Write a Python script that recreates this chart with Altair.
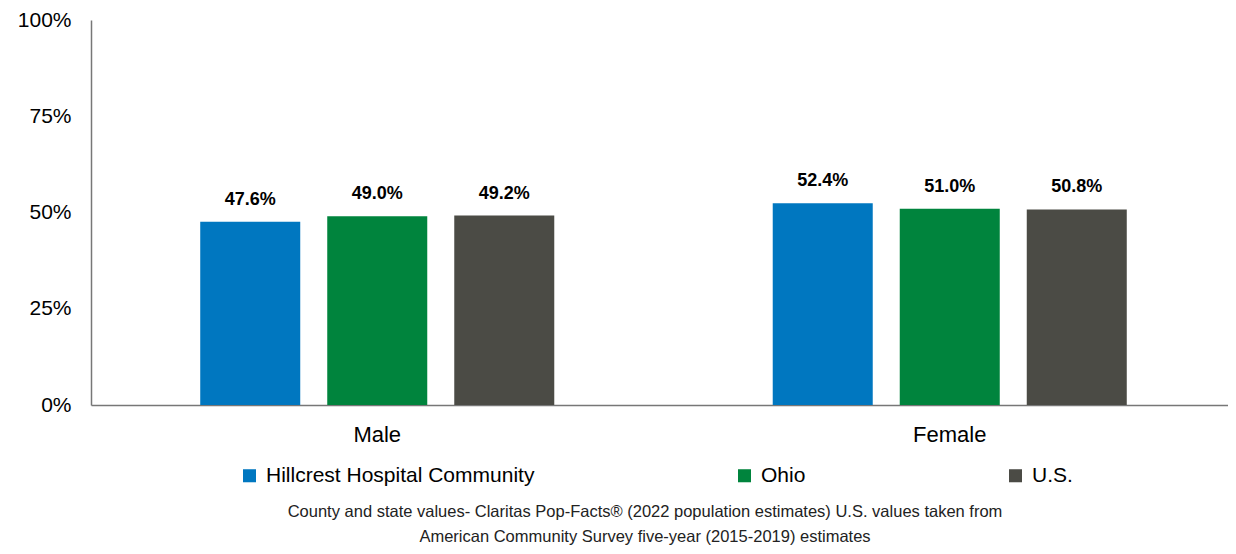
import altair as alt
import pandas as pd

categories = ["Male", "Female"]
series = ["Hillcrest Hospital Community", "Ohio", "U.S."]
hillcrest = [47.6, 52.4]
ohio = [49.0, 51.0]
us = [49.2, 50.8]
colors = ["#0077C0", "#00843D", "#4B4B45"]
footnote = [
    "County and state values- Claritas Pop-Facts\u00ae (2022 population estimates) U.S. values taken from",
    "American Community Survey five-year (2015-2019) estimates",
]

rows = []
for s, vals in zip(series, [hillcrest, ohio, us]):
    for c, v in zip(categories, vals):
        rows.append({"sex": c, "series": s, "value": v / 100, "label": f"{v:.1f}%"})
df = pd.DataFrame(rows)

FONT = "Liberation Sans"
W = 1137

base = alt.Chart(df).encode(
    x=alt.X("sex:N", sort=categories, title=None,
            scale=alt.Scale(paddingInner=0, paddingOuter=0, range=[0, 1145]),
            axis=alt.Axis(labelAngle=0, labelFontSize=22, labelFont=FONT, labelColor="#000",
                          labelPadding=19, ticks=False, domainColor="#777", domainWidth=1.5)),
    xOffset=alt.XOffset("series:N", sort=series,
                        scale=alt.Scale(paddingInner=0.2126, paddingOuter=0.86)),
    y=alt.Y("value:Q", title=None,
            scale=alt.Scale(domain=[0, 1]),
            axis=alt.Axis(values=[0, 0.25, 0.5, 0.75, 1], format=".0%", labelFontSize=21,
                          labelFont=FONT, labelColor="#000", labelPadding=20, ticks=False,
                          grid=False, domainColor="#777", domainWidth=1.5)),
)

bars = base.mark_bar().encode(
    color=alt.Color("series:N", sort=series,
                    scale=alt.Scale(domain=series, range=colors),
                    legend=alt.Legend(title=None, orient="none", legendX=148, legendY=445,
                                      direction="horizontal", columns=3, columnPadding=199,
                                      symbolType="square", symbolSize=170, symbolStrokeWidth=0,
                                      symbolOpacity=1, labelFontSize=21, labelFont=FONT,
                                      labelColor="#000", labelOffset=6, labelLimit=400))
)

labels = base.mark_text(dy=-22, fontSize=18, fontWeight="bold", font=FONT, color="#000").encode(
    text="label:N"
)

note_style = dict(fontSize=16.5, font=FONT, color="#222", align="center", baseline="middle")
note1 = alt.Chart(pd.DataFrame({"line": [footnote[0]]})).mark_text(**note_style).encode(
    text="line:N", x=alt.value(554), y=alt.value(492))
note2 = alt.Chart(pd.DataFrame({"line": [footnote[1]]})).mark_text(**note_style).encode(
    text="line:N", x=alt.value(554), y=alt.value(517))

chart = alt.layer(bars, labels, note1, note2).properties(
    width=W, height=385,
    background="white",
    autosize=alt.AutoSizeParams(type="none"),
    padding={"left": 83, "top": 12, "right": 0, "bottom": 141},
).configure_view(strokeWidth=0)

chart.save("out.html", embed_options={"renderer": "svg", "actions": False})
